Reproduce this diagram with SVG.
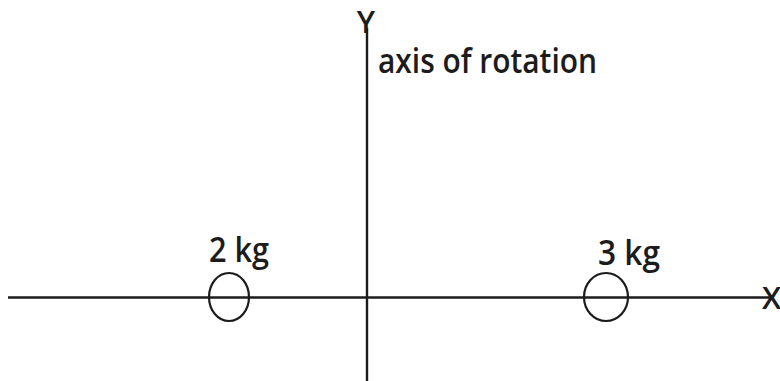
<svg xmlns="http://www.w3.org/2000/svg" width="780" height="381" viewBox="0 0 780 381">
<style>
.t{font-family:"Open Sans","Liberation Sans",sans-serif;font-weight:600;fill:#1c1c1c;}
.ax{stroke:#1c1c1c;stroke-width:2.4;fill:none;}
.m{stroke:#1c1c1c;stroke-width:2.2;fill:none;}
</style>
<rect width="780" height="381" fill="#fff"/>
<g id="connectors">
<line class="ax" x1="8" y1="297.5" x2="770" y2="297.5"/>
<line class="ax" x1="367" y1="28" x2="367" y2="381"/>
</g>
<g id="y-axis-label"><text class="t" x="366" y="33" font-size="31" text-anchor="middle">Y</text></g>
<g id="x-axis-label"><text class="t" x="762" y="309" font-size="31">X</text></g>
<g id="axis-label"><text class="t" x="378" y="73" font-size="35" textLength="219" lengthAdjust="spacingAndGlyphs">axis of rotation</text></g>
<g id="mass-2kg">
<ellipse class="m" cx="229" cy="297" rx="20" ry="24"/>
<text class="t" x="209" y="262" font-size="34" textLength="60" lengthAdjust="spacingAndGlyphs">2 kg</text>
</g>
<g id="mass-3kg">
<ellipse class="m" cx="606" cy="297" rx="22" ry="24"/>
<text class="t" x="598" y="265" font-size="34" textLength="62" lengthAdjust="spacingAndGlyphs">3 kg</text>
</g>
</svg>
